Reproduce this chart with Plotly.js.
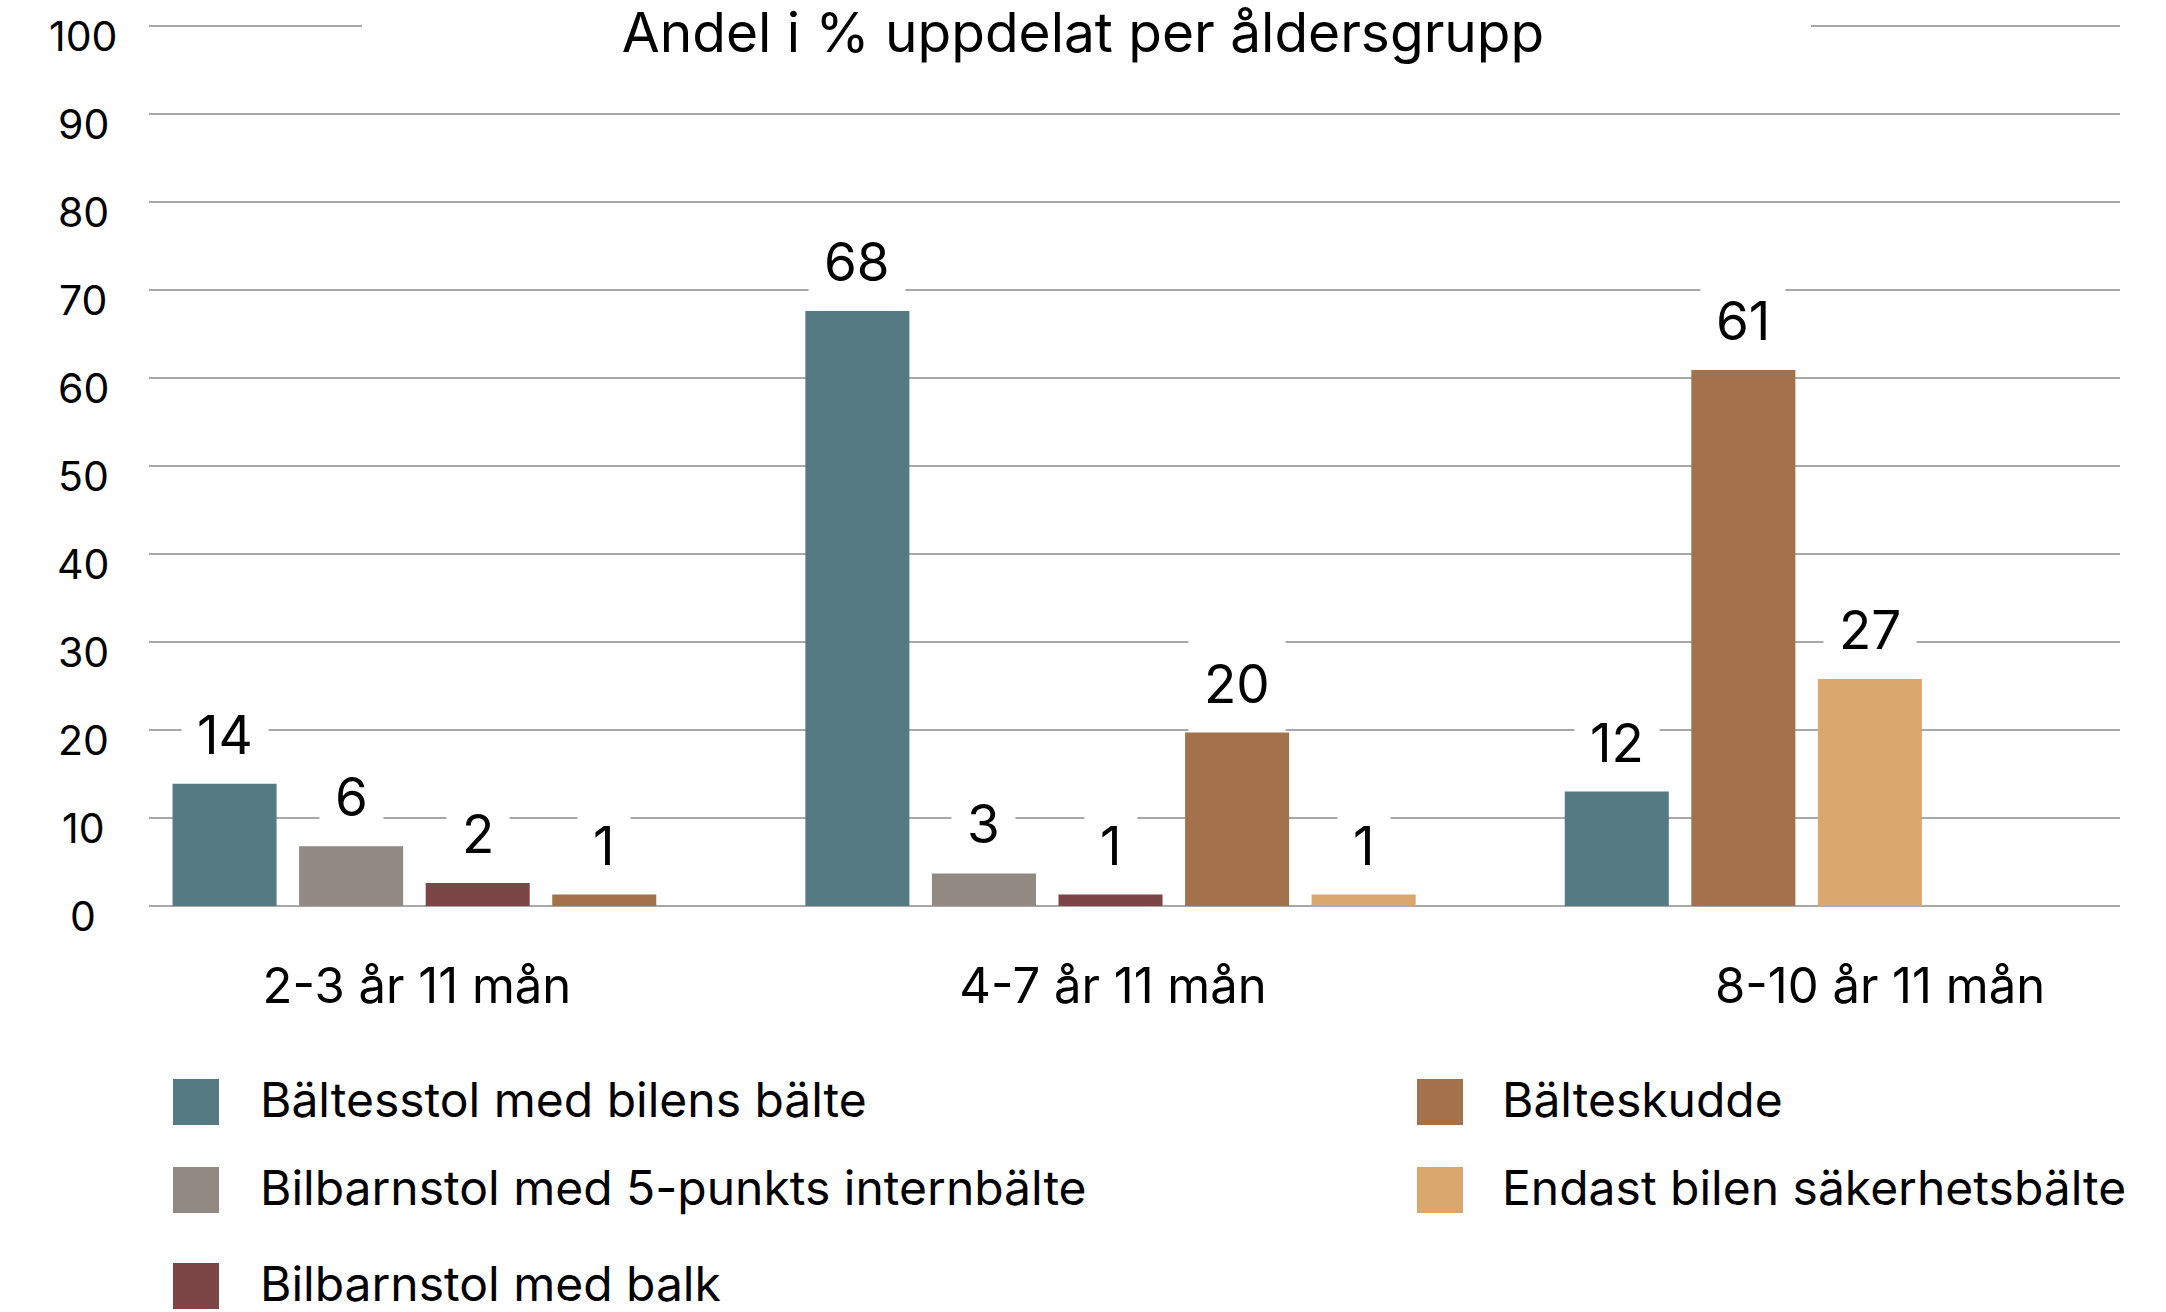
<!DOCTYPE html>
<html><head><meta charset="utf-8">
<script src="https://cdn.plot.ly/plotly-3.0.1.min.js"></script>
<style>html,body{margin:0;padding:0;background:#fff;}</style>
</head><body><div id="chart" style="width:2166px;height:1312px;"></div>
<script>
// ---------- DATA ----------
const groups = ["2-3 år 11 mån", "4-7 år 11 mån", "8-10 år 11 mån"];
const seriesNames = [
  "Bältesstol med bilens bälte",
  "Bilbarnstol med 5-punkts internbälte",
  "Bilbarnstol med balk",
  "Bälteskudde",
  "Endast bilen säkerhetsbälte"
];
// bar heights as drawn (per age group); null = no bar in that group
const valBaltesstol  = [13.9, 67.6, 13.0];
const valFemPunkt    = [6.8, 3.7, null];
const valBalk        = [2.6, 1.3, null];
const valBalteskudde = [1.3, 19.7, 60.9];
const valEndast      = [null, 1.3, 25.8];
// printed value labels
const lblBaltesstol  = ["14", "68", "12"];
const lblFemPunkt    = ["6", "3", null];
const lblBalk        = ["2", "1", null];
const lblBalteskudde = ["1", "20", "61"];
const lblEndast      = [null, "1", "27"];
const yTickValues = [0, 10, 20, 30, 40, 50, 60, 70, 80, 90, 100];
const titleText = "Andel i % uppdelat per åldersgrupp";

// ---------- STYLE / LAYOUT CONSTANTS ----------
const colors = ["#557A82", "#918982", "#7D4646", "#A3724C", "#DAA86C"];
const FONT = "Inter, 'Liberation Sans', sans-serif";
const W = 2166, H = 1312;
const ML = 149, MR = 46, MT = 17, MB = 406;
const PW = W - ML - MR, PH = H - MT - MB;
const yRange = [0, 101];
const xRange = [-0.597, 14.976];
const barWidth = 0.822;
const groupLabelX = [1.52, 7.02, 13.08];
const px2paperX = px => (px - ML) / PW;
const px2paperY = py => (H - MB - py) / PH;

const seriesValues = [valBaltesstol, valFemPunkt, valBalk, valBalteskudde, valEndast];
const seriesLabels = [lblBaltesstol, lblFemPunkt, lblBalk, lblBalteskudde, lblEndast];

// assign consecutive slots to the bars present in each group, one empty slot between groups
const slots = seriesValues.map(() => []);
let s = 0;
groups.forEach((g, gi) => {
  seriesValues.forEach((vals, si) => {
    if (vals[gi] != null) { slots[si][gi] = s; s++; } else { slots[si][gi] = null; }
  });
  s += 1;
});

const traces = seriesNames.map((name, si) => {
  const xs = [], ys = [];
  groups.forEach((g, gi) => {
    if (seriesValues[si][gi] != null) { xs.push(slots[si][gi]); ys.push(seriesValues[si][gi]); }
  });
  return {
    type: "bar", name: name, x: xs, y: ys, width: barWidth,
    marker: { color: colors[si], line: { width: 0 } },
    hoverinfo: "skip", showlegend: false
  };
});

const annotations = [];
// value labels
seriesNames.forEach((name, si) => {
  groups.forEach((g, gi) => {
    const lbl = seriesLabels[si][gi];
    if (lbl != null && seriesValues[si][gi] != null) {
      annotations.push({
        x: slots[si][gi], y: seriesValues[si][gi], xref: "x", yref: "y",
        text: lbl, showarrow: false, xanchor: "center", yanchor: "bottom",
        yshift: 1, bgcolor: "#ffffff", borderpad: 15,
        font: { family: FONT, size: 53, color: "#000" }
      });
    }
  });
});
// y tick labels (centered)
yTickValues.forEach(t => {
  annotations.push({
    x: px2paperX(83), xref: "paper", y: t, yref: "y", text: String(t),
    showarrow: false, xanchor: "center", yanchor: "middle", yshift: -10,
    font: { family: FONT, size: 41, color: "#000" }
  });
});

// manual legend
const shapes = [];
const legendCols = [{ sw: 173, tx: 258 }, { sw: 1417, tx: 1500 }];
const legendRowsPx = [1079, 1167, 1263];
const legendPlacement = [[0, 0], [0, 1], [0, 2], [1, 0], [1, 1]];
const SW = 46;
seriesNames.forEach((name, si) => {
  const [c, r] = legendPlacement[si];
  const top = legendRowsPx[r];
  shapes.push({
    type: "rect", xref: "paper", yref: "paper",
    x0: px2paperX(legendCols[c].sw), x1: px2paperX(legendCols[c].sw + SW),
    y0: px2paperY(top + SW), y1: px2paperY(top),
    fillcolor: colors[si], line: { width: 0 }, layer: "above"
  });
  annotations.push({
    x: px2paperX(legendCols[c].tx), xref: "paper",
    y: px2paperY(top + SW / 2 - 3), yref: "paper",
    text: name, showarrow: false, xanchor: "left", yanchor: "middle",
    font: { family: FONT, size: 48, color: "#000" }
  });
});
// white mask behind the title on the top gridline
shapes.push({
  type: "rect", xref: "paper", yref: "y",
  x0: px2paperX(362), x1: px2paperX(1811), y0: 98, y1: 101,
  fillcolor: "#ffffff", line: { width: 0 }, layer: "above"
});

const layout = {
  width: W, height: H,
  margin: { l: ML, r: MR, t: MT, b: MB, pad: 0 },
  paper_bgcolor: "#ffffff", plot_bgcolor: "#ffffff",
  font: { family: FONT, color: "#000" },
  showlegend: false,
  barmode: "overlay",
  title: {
    text: titleText, font: { family: FONT, size: 55, color: "#000" },
    x: 0.5, xref: "container", xanchor: "center",
    y: 1 - 33 / H, yref: "container", yanchor: "middle"
  },
  xaxis: {
    type: "linear", range: xRange, showgrid: false, zeroline: false, showline: false,
    tickmode: "array", tickvals: groupLabelX, ticktext: groups, ticks: "",
    tickfont: { family: FONT, size: 49, color: "#000" }, ticklabelstandoff: 47,
    fixedrange: true
  },
  yaxis: {
    range: yRange, tickmode: "array", tickvals: yTickValues, showticklabels: false,
    showgrid: true, gridcolor: "#a8a8a8", gridwidth: 2,
    zeroline: true, zerolinecolor: "#a8a8a8", zerolinewidth: 2, showline: false, ticks: "",
    fixedrange: true
  },
  shapes: shapes,
  annotations: annotations
};

Plotly.newPlot("chart", traces, layout, { displayModeBar: false, staticPlot: true });
</script>
</body></html>
